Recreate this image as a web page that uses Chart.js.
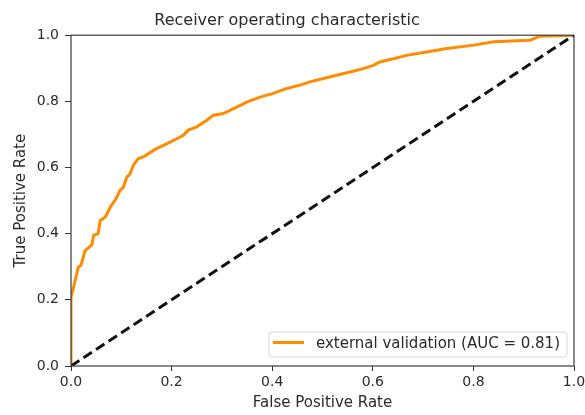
<!DOCTYPE html>
<html>
<head>
<meta charset="utf-8">
<script src="https://cdn.jsdelivr.net/npm/chart.js@4/dist/chart.umd.min.js"></script>
<style>
  html,body{margin:0;padding:0;background:#fff;}
  #wrap{width:585px;height:415px;}
</style>
</head>
<body>
<div id="wrap"><canvas id="c" width="585" height="415"></canvas></div>
<script>
const titleText = "Receiver operating characteristic";
const xLabel = "False Positive Rate";
const yLabel = "True Positive Rate";
const seriesLabel = "external validation (AUC = 0.81)";
const tickValues = [0, 0.2, 0.4, 0.6, 0.8, 1.0];

const fpr = [0, 0, 0.005, 0.0145, 0.02, 0.028, 0.041, 0.045, 0.054, 0.058, 0.068, 0.078, 0.087, 0.091, 0.097, 0.104, 0.111, 0.117, 0.124, 0.134, 0.144, 0.154, 0.170, 0.184, 0.197, 0.210, 0.223, 0.233, 0.250, 0.270, 0.283, 0.303, 0.323, 0.340, 0.349, 0.376, 0.402, 0.429, 0.455, 0.475, 0.502, 0.528, 0.555, 0.581, 0.601, 0.614, 0.641, 0.667, 0.707, 0.747, 0.801, 0.840, 0.913, 0.932, 1.0];
const tpr = [0, 0.208, 0.238, 0.299, 0.305, 0.349, 0.365, 0.395, 0.40, 0.44, 0.45, 0.48, 0.50, 0.51, 0.53, 0.54, 0.571, 0.58, 0.607, 0.627, 0.632, 0.642, 0.657, 0.667, 0.677, 0.687, 0.697, 0.713, 0.723, 0.743, 0.758, 0.763, 0.778, 0.790, 0.798, 0.813, 0.824, 0.839, 0.849, 0.859, 0.869, 0.879, 0.889, 0.899, 0.909, 0.919, 0.929, 0.939, 0.949, 0.960, 0.970, 0.980, 0.985, 0.997, 1.0];
const diagX = [0, 1];
const diagY = [0, 1];

const rocPoints = fpr.map((x, i) => ({x: x, y: tpr[i]}));
const diagPoints = diagX.map((x, i) => ({x: x, y: diagY[i]}));

const FONT = "'DejaVu Sans', sans-serif";
const TXT = '#2a2a2a';

const framePlugin = {
  id: 'frameLegend',
  afterDatasetsDraw(chart) {
    const ctx = chart.ctx, a = chart.chartArea;
    ctx.save();
    ctx.strokeStyle = '#3a3a3a';
    ctx.lineWidth = 1.2;
    ctx.strokeRect(a.left, a.top, a.right - a.left, a.bottom - a.top);
    // legend box (lower right)
    ctx.font = "15px " + FONT;
    const tw = ctx.measureText(seriesLabel).width;
    const boxW = tw + 54, boxH = 25;
    const bx = a.right - 7 - boxW, by = a.bottom - 9 - boxH;
    ctx.fillStyle = 'rgba(255,255,255,0.8)';
    ctx.strokeStyle = '#d6d6d6';
    ctx.lineWidth = 1;
    ctx.beginPath();
    if (ctx.roundRect) ctx.roundRect(bx, by, boxW, boxH, 3); else ctx.rect(bx, by, boxW, boxH);
    ctx.fill(); ctx.stroke();
    ctx.strokeStyle = '#ff8c00';
    ctx.lineWidth = 3;
    ctx.beginPath();
    ctx.moveTo(bx + 4, by + boxH / 2 - 2);
    ctx.lineTo(bx + 35, by + boxH / 2 - 2);
    ctx.stroke();
    ctx.fillStyle = TXT;
    ctx.textBaseline = 'middle';
    ctx.fillText(seriesLabel, bx + 47, by + boxH / 2);
    ctx.restore();
  }
};

new Chart(document.getElementById('c'), {
  type: 'scatter',
  data: {
    datasets: [
      {label: seriesLabel, data: rocPoints, showLine: true, borderColor: '#ff8c00', borderWidth: 3,
       pointRadius: 0, fill: false, tension: 0, order: 2},
      {label: 'chance', data: diagPoints, showLine: true, borderColor: '#111111', borderWidth: 3,
       borderDash: [10, 5], pointRadius: 0, fill: false, tension: 0, order: 1}
    ]
  },
  options: {
    responsive: false,
    animation: false,
    devicePixelRatio: 1,
    layout: {padding: {left: 0, right: 11, top: 0, bottom: 0}},
    plugins: {
      legend: {display: false},
      tooltip: {enabled: false},
      title: {display: true, text: titleText, color: TXT,
              font: {family: FONT, size: 16, weight: 'normal'}, padding: {top: 11, bottom: 5}}
    },
    scales: {
      x: {
        type: 'linear', min: 0, max: 1,
        afterBuildTicks: s => { s.ticks = tickValues.map(v => ({value: v})); },
        afterFit: s => { s.height = 49; s.paddingLeft = 0; s.paddingRight = 0; },
        grid: {display: true, drawOnChartArea: false, drawTicks: true, tickLength: 5, tickColor: '#333', tickWidth: 1},
        border: {display: false},
        ticks: {color: TXT, font: {family: FONT, size: 14}, padding: 3, maxRotation: 0,
                callback: v => Number(v).toFixed(1)},
        title: {display: true, text: xLabel, color: TXT, font: {family: FONT, size: 15}, padding: {top: 4, bottom: 3}}
      },
      y: {
        type: 'linear', min: 0, max: 1,
        afterBuildTicks: s => { s.ticks = tickValues.map(v => ({value: v})); },
        afterFit: s => { s.width = 71; s.paddingTop = 0; s.paddingBottom = 0; },
        grid: {display: true, drawOnChartArea: false, drawTicks: true, tickLength: 6, tickColor: '#333', tickWidth: 1},
        border: {display: false},
        ticks: {color: TXT, font: {family: FONT, size: 14}, padding: 6,
                callback: v => Number(v).toFixed(1)},
        title: {display: true, text: yLabel, color: TXT, font: {family: FONT, size: 15}, padding: {top: 12, bottom: 6}}
      }
    }
  },
  plugins: [framePlugin]
});
</script>
</body>
</html>
